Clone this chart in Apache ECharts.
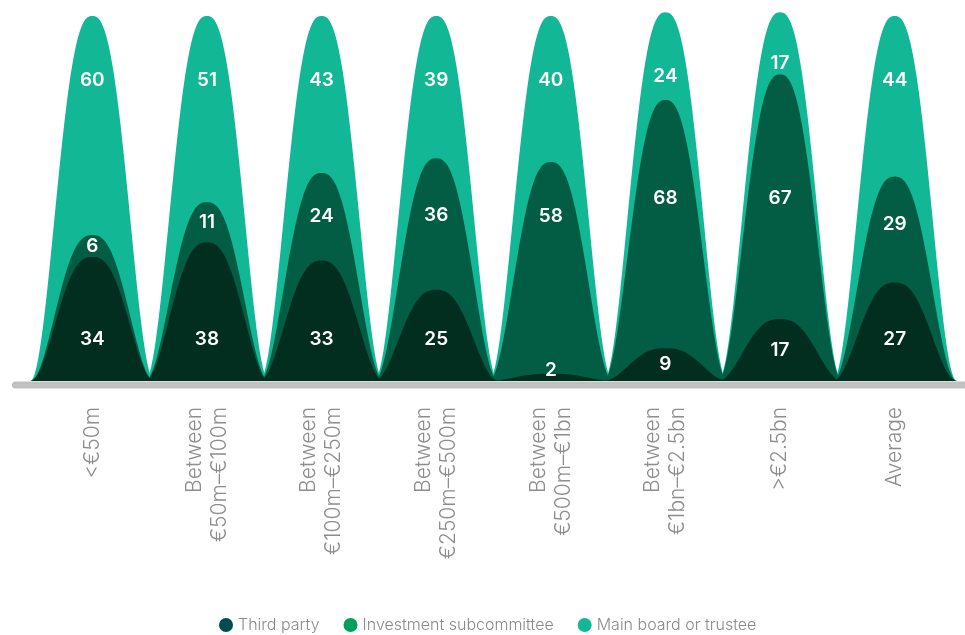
<!DOCTYPE html>
<html>
<head>
<meta charset="utf-8">
<style>
  html, body { margin: 0; padding: 0; background: #ffffff; }
  #chart { width: 965px; height: 635px; }
</style>
<script src="https://cdn.jsdelivr.net/npm/echarts@6/dist/echarts.min.js"></script>
</head>
<body>
<div id="chart"></div>
<script>
// Fund size bands and who makes the decision (% of respondents)
const categories = [
  '<€50m',
  'Between\n€50m–€100m',
  'Between\n€100m–€250m',
  'Between\n€250m–€500m',
  'Between\n€500m–€1bn',
  'Between\n€1bn–€2.5bn',
  '>€2.5bn',
  'Average'
];
const thirdParty   = [34, 38, 33, 25, 2, 9, 17, 27];
const subcommittee = [6, 11, 24, 36, 58, 68, 67, 29];
const mainBoard    = [60, 51, 43, 39, 40, 24, 17, 44];

const seriesNames = ['Third party', 'Investment subcommittee', 'Main board or trustee'];
const fillColors = ['#022e20', '#025d44', '#12b795'];
const legendColors = ['#004c50', '#00a05c', '#12b795'];

// Stack the layers: each bell is drawn from the baseline up to its cumulative total
const cumMid = thirdParty.map((v, i) => v + subcommittee[i]);
const cumTop = cumMid.map((v, i) => v + mainBoard[i]);

// Where each layer's number sits (in value units)
function labelLevel(layer, i) {
  if (layer === 0) return Math.max(3, Math.min(11.5, thirdParty[i] / 2));
  if (layer === 1) return (Math.max(thirdParty[i], 30) + Math.min(cumMid[i], 70)) / 2;
  return Math.max(cumTop[i] - 17.5, cumMid[i] + 3);
}

// Bell profile: 1 at the centre, 0 at the edge (d in 0..1)
function bell(d) {
  const c = Math.cos(Math.PI / 2 * Math.pow(d, 1.27));
  return c * c;
}

function makeRender(layer) {
  return function (params, api) {
    const i = api.value(0);
    const top = api.value(1);
    const shown = api.value(2);
    const lvl = api.value(3);
    const base = api.coord([i, 0]);
    const peak = api.coord([i, top]);
    const halfW = api.size([1, 0])[0] * 0.541;
    const h = base[1] - peak[1];
    const pts = [];
    const steps = 40;
    for (let k = 0; k <= steps; k++) {
      const d = 1 - k / steps;
      pts.push([base[0] - d * halfW, base[1] - h * bell(d)]);
    }
    for (let k = 1; k <= steps; k++) {
      const d = k / steps;
      pts.push([base[0] + d * halfW, base[1] - h * bell(d)]);
    }
    const lp = api.coord([i, lvl]);
    return {
      type: 'group',
      children: [
        { type: 'polygon', shape: { points: pts }, style: { fill: fillColors[layer] } },
        {
          type: 'text', x: lp[0], y: lp[1], z2: 10,
          style: {
            text: String(shown), fill: '#ffffff', align: 'center', verticalAlign: 'middle',
            font: '600 19px Inter, "Noto Sans", sans-serif'
          }
        }
      ]
    };
  };
}

const layerTops = [thirdParty, cumMid, cumTop];
const layerValues = [thirdParty, subcommittee, mainBoard];

function buildSeries(layer) {
  return {
    name: seriesNames[layer],
    type: 'custom',
    renderItem: makeRender(layer),
    itemStyle: { color: legendColors[layer] },
    encode: { x: 0, y: 1 },
    data: categories.map((c, i) => [i, layerTops[layer][i], layerValues[layer][i], labelLevel(layer, i)]),
    z: 2
  };
}

const chart = echarts.init(document.getElementById('chart'), null, { renderer: 'canvas' });
chart.setOption({
  animation: false,
  backgroundColor: '#ffffff',
  grid: { left: 35, right: 13, top: 16, bottom: 254 },
  xAxis: {
    type: 'category',
    data: categories,
    boundaryGap: true,
    axisLine: { show: false },
    axisTick: { show: false },
    axisLabel: {
      rotate: 90,
      margin: 26,
      color: '#8d8d8d',
      fontSize: 21,
      lineHeight: 25,
      fontWeight: 300,
      fontFamily: 'Inter, "Noto Sans", sans-serif',
      interval: 0
    }
  },
  yAxis: { type: 'value', min: 0, max: 100, show: false },
  legend: {
    left: 214,
    top: 612,
    icon: 'circle',
    itemWidth: 14,
    itemHeight: 14,
    itemGap: 24,
    textStyle: { fontSize: 16, color: '#8a8a8a', fontWeight: 300, fontFamily: 'Inter, "Noto Sans", sans-serif' },
    data: seriesNames.map((n, k) => ({ name: n, itemStyle: { color: legendColors[k] } }))
  },
  graphic: [{
    type: 'rect',
    z: 0,
    shape: { x: 12, y: 381.5, width: 953, height: 7, r: [3.5, 0, 0, 3.5] },
    style: { fill: '#c0c0c0' }
  }],
  series: [buildSeries(2), buildSeries(1), buildSeries(0)]
});
</script>
</body>
</html>
